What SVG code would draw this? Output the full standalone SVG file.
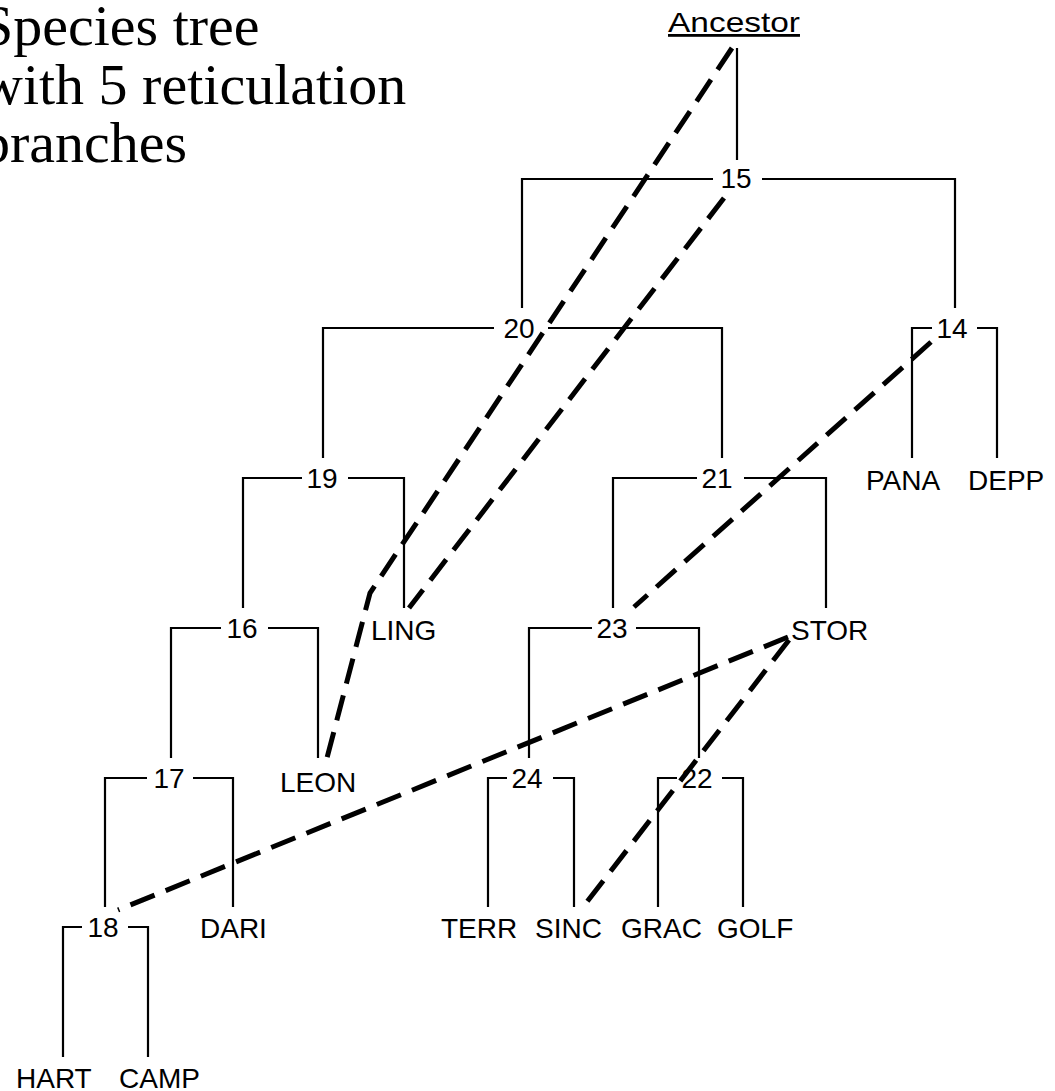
<svg xmlns="http://www.w3.org/2000/svg" width="1055" height="1091" viewBox="0 0 1055 1091">
<style>
.title{font-family:"Liberation Serif","Times New Roman",serif;font-size:58px;fill:#000}
.lbl{font-family:"Liberation Sans",Arial,sans-serif;font-size:28px;fill:#000}
.num{text-anchor:middle}
.br{fill:none;stroke:#000;stroke-width:2.2}
.ret{fill:none;stroke:#000;stroke-width:5;stroke-dasharray:26 12}
</style>
<rect width="1055" height="1091" fill="#fff"/>
<g id="title">
<text class="title" x="-19" y="45">Species tree</text>
<text class="title" x="-19" y="104">with 5 reticulation</text>
<text class="title" x="-19" y="162">branches</text>
</g>
<g id="connectors">
<g id="branches">
<path class="br" d="M737,48V160"/>
<path class="br" d="M522,308V179H713M762,179H955V308"/>
<path class="br" d="M323,458V328H494M548,328H722V458"/>
<path class="br" d="M912,458V328H932M977,328H997V458"/>
<path class="br" d="M243,608V478H302M348,478H404V608"/>
<path class="br" d="M613,608V478H697M744,478H826V608"/>
<path class="br" d="M171,758V628H221M268,628H318V758"/>
<path class="br" d="M529,758V628H592M636,628H699V758"/>
<path class="br" d="M105,907V778H147M193,778H233V907"/>
<path class="br" d="M488,907V778H507M553,778H574V907"/>
<path class="br" d="M658,907V778H677M722,778H743V907"/>
<path class="br" d="M63,1057V927H82M128,927H148V1057"/>
</g>
<g id="reticulations">
<polyline class="ret" points="732,48 370,593 327,758"/>
<line class="ret" x1="724" y1="198" x2="409" y2="608"/>
<line class="ret" x1="931" y1="342" x2="634" y2="607"/>
<line class="ret" x1="788" y1="637" x2="118" y2="910"/>
<line class="ret" x1="789" y1="640" x2="583" y2="907"/>
</g>
</g>
<g id="node-ancestor"><text class="lbl num" x="734" y="32" font-size="29" textLength="132" lengthAdjust="spacingAndGlyphs" text-decoration="underline">Ancestor</text></g>
<g id="node-15"><text class="lbl num" x="736" y="188">15</text></g>
<g id="node-20"><text class="lbl num" x="519" y="338">20</text></g>
<g id="node-14"><text class="lbl num" x="952" y="338">14</text></g>
<g id="node-19"><text class="lbl num" x="322" y="488">19</text></g>
<g id="node-21"><text class="lbl num" x="717" y="488">21</text></g>
<g id="node-16"><text class="lbl num" x="242" y="638">16</text></g>
<g id="node-23"><text class="lbl num" x="612" y="638">23</text></g>
<g id="node-17"><text class="lbl num" x="169" y="788">17</text></g>
<g id="node-24"><text class="lbl num" x="527" y="788">24</text></g>
<g id="node-22"><text class="lbl num" x="697" y="788">22</text></g>
<g id="node-18"><text class="lbl num" x="103" y="937">18</text></g>
<g id="node-pana"><text class="lbl" x="866" y="490">PANA</text></g>
<g id="node-depp"><text class="lbl" x="968" y="490">DEPP</text></g>
<g id="node-ling"><text class="lbl" x="371" y="640">LING</text></g>
<g id="node-stor"><text class="lbl" x="791" y="640">STOR</text></g>
<g id="node-leon"><text class="lbl" x="280" y="792">LEON</text></g>
<g id="node-dari"><text class="lbl" x="200" y="938">DARI</text></g>
<g id="node-terr"><text class="lbl" x="441" y="938">TERR</text></g>
<g id="node-sinc"><text class="lbl" x="535" y="938">SINC</text></g>
<g id="node-grac"><text class="lbl" x="621" y="938">GRAC</text></g>
<g id="node-golf"><text class="lbl" x="717" y="938">GOLF</text></g>
<g id="node-hart"><text class="lbl" x="16" y="1088">HART</text></g>
<g id="node-camp"><text class="lbl" x="119" y="1088">CAMP</text></g>
</svg>
